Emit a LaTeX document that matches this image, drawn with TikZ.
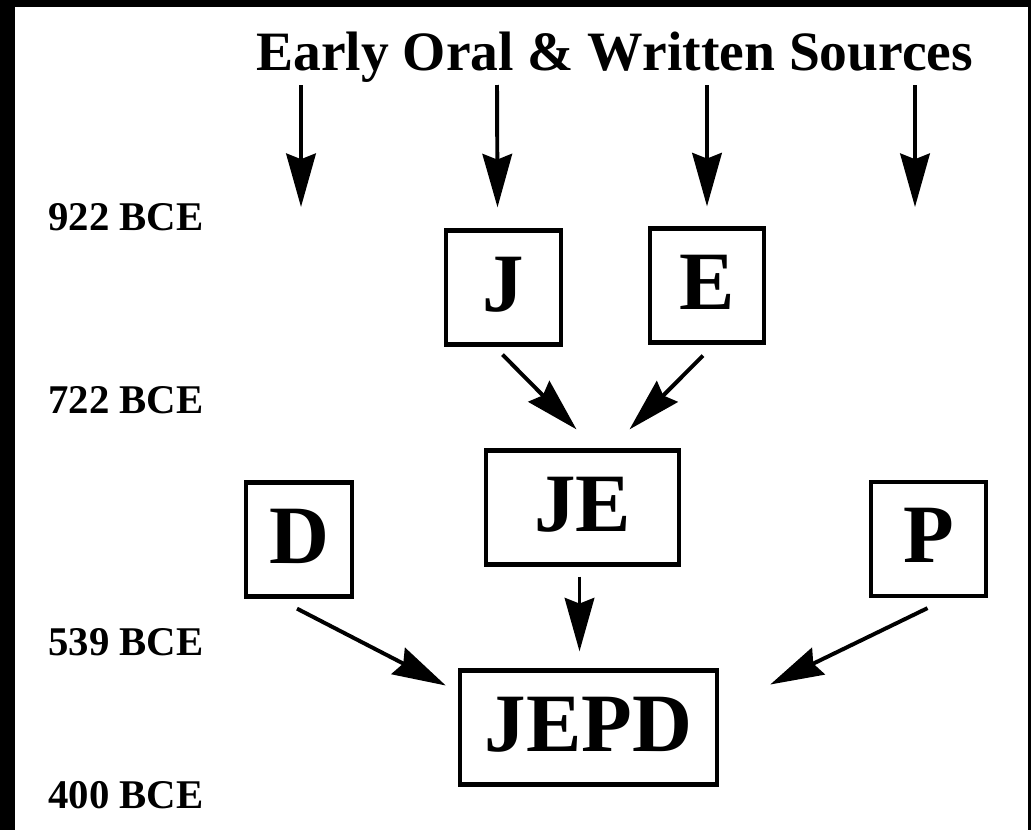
\documentclass[tikz,border=0pt]{standalone}
\usepackage{fontspec}
\setmainfont{Liberation Serif}
\usetikzlibrary{arrows.meta,calc}

\begin{document}
\begin{tikzpicture}[x=0.025cm, y=-0.025cm]
	\tikzset{b/.style={draw=black, line width=3pt, minimum height=2.85cm, inner sep=0pt,
		text height=39pt, text depth=5pt, font=\bfseries\fontsize{59}{59}\selectfont},
	f/.style={-{Stealth[length=38pt, width=21pt, inset=4pt]}, line width=2.8pt},
	yr/.style={anchor=base west, inner sep=0pt, font=\bfseries\fontsize{29}{29}\selectfont}};

	\useasboundingbox (0,0) rectangle (1031,830);
	\fill[black] (0,0) rectangle (1031,830);
	\fill[white] (15,7) rectangle (1028,830);

	\node[anchor=base west, inner sep=0pt, font=\bfseries\fontsize{39.5}{39.5}\selectfont] (src) at (256,70) {Early Oral \& Written Sources};

	\node[yr] (y922) at (48,230) {922 BCE};
	\node[yr] (y722) at (48,413) {722 BCE};
	\node[yr] (y539) at (48,655) {539 BCE};
	\node[yr] (y400) at (48,808) {400 BCE};

	\node[b, minimum width=2.89cm] (j) at (503.5,287.5) {J};
	\node[b, minimum width=2.86cm] (e) at (707,285.5) {E};
	\node[b, minimum width=4.83cm] (je) at (582.5,507.5) {JE};
	\node[b, minimum width=2.65cm] (d) at (299,539.5) {D};
	\node[b, minimum width=2.88cm] (p) at (928.5,539) {P};
	\node[b, minimum width=6.43cm] (jepd) at (588.5,727.5) {JEPD};

	\coordinate (s1) at (301,85);
	\coordinate (s2) at (497,85);
	\coordinate (s3) at (707,85);
	\coordinate (s4) at (915,85);
	\coordinate (t1) at (301,207);
	\coordinate (t4) at (915,207);

	\draw[f] (s1) -- (t1);
	\draw[f] (s2) -- ($(j.north)+(-6,-21)$);
	\draw[f] (s3) -- ($(e.north)+(0,-20)$);
	\draw[f] (s4) -- (t4);

	\draw[f] ($(j.south)+(-1,8)$) -- ($(je.north)+(-6,-19)$);
	\draw[f] ($(e.south)+(-4,11)$) -- ($(je.north)+(47,-19)$);
	\draw[f] ($(je.south)+(-3,10)$) -- ($(jepd.north)+(-9,-17)$);
	\draw[f] ($(d.south)+(-2,10)$) -- ($(jepd.west)+(-12,-42)$);
	\draw[f] ($(p.south)+(-1,10)$) -- ($(jepd.east)+(51,-43)$);
\end{tikzpicture}
\end{document}
